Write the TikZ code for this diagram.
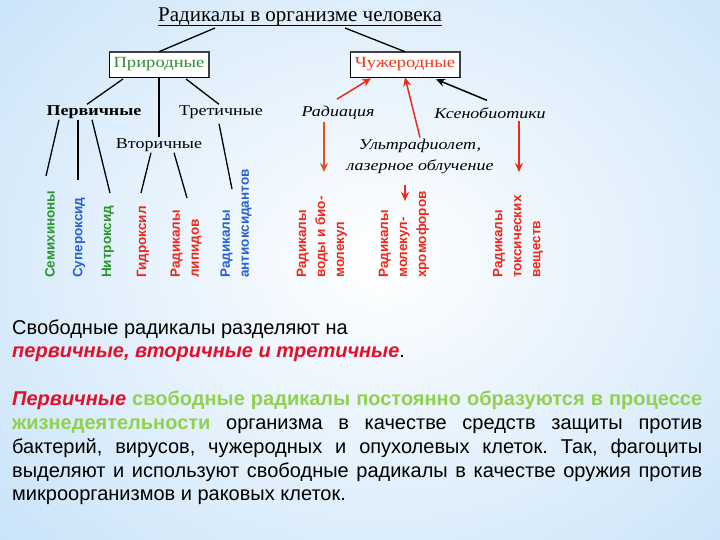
\documentclass[tikz,border=0pt]{standalone}
\usepackage{fontspec}
\setmainfont{Liberation Serif}
\newfontfamily\arial{Liberation Sans}
\newfontfamily\labfont[FakeStretch=1.2]{Liberation Serif}
\usetikzlibrary{arrows.meta,calc}
\definecolor{bgblue}{RGB}{176,214,245}
\definecolor{lgreen}{RGB}{40,150,40}
\definecolor{lblue}{RGB}{40,95,210}
\definecolor{lred}{RGB}{238,40,26}
\definecolor{boxgreen}{RGB}{50,140,50}
\definecolor{boxred}{RGB}{232,58,26}
\definecolor{orred}{RGB}{226,80,30}
\definecolor{txtred}{RGB}{226,16,40}
\definecolor{txtgreen}{RGB}{146,208,80}
\tikzset{
  treeline/.style={black,line width=1.3pt},
  redarrow/.style={lred,line width=1.5pt,-{Stealth[length=9pt,width=8pt]}},
  blackarrow/.style={black,line width=1.5pt,-{Stealth[length=9pt,width=8pt]}},
  lab/.style={font=\labfont\fontsize{15}{17}\selectfont,inner sep=1pt},
  ilab/.style={font=\labfont\itshape\fontsize{15}{21}\selectfont,inner sep=1pt,align=center},
  catbox/.style={draw=black,line width=0.6pt,fill=white,minimum height=25pt,inner sep=0pt,
     font=\labfont\fontsize{15.5}{17}\selectfont},
  vlab/.style={rotate=90,anchor=west,inner sep=0pt,align=left,
     font=\arial\bfseries\fontsize{13.5}{19}\selectfont},
  body/.style={anchor=base west,inner sep=0pt,font=\arial\fontsize{20}{24}\selectfont}
}
\begin{document}
\frenchspacing
\begin{tikzpicture}[x=1pt,y=-1pt]
\useasboundingbox (0,0) rectangle (720,540);
\fill[bgblue] (0,0) rectangle (720,540);
\shade[inner color=white,outer color=bgblue] (380,260) ellipse (760 and 620);

% title
\node[anchor=base,inner sep=0pt,font=\fontsize{21}{23}\selectfont] (title) at (300,22) {Радикалы в организме человека};
\draw[line width=0.8pt] ([yshift=-3pt]title.base west) -- ([yshift=-3pt]title.base east);

% category boxes
\node[catbox,minimum width=100pt,text=boxgreen] (prir) at (159,64.5) {Природные};
\node[catbox,minimum width=110pt,text=boxred] (chuzh) at (405,64.5) {Чужеродные};
\draw[line width=2pt,darkgray] (prir.north west) -- (prir.north east) -- (prir.south east);
\draw[line width=2pt,darkgray] (chuzh.north west) -- (chuzh.north east) -- (chuzh.south east);

\coordinate (t1) at (215,28);
\coordinate (t2) at (345,28);
\draw[treeline] (t1) -- (prir.north);
\draw[treeline] (t2) -- (chuzh.north);

% natural branch
\node[lab,font=\labfont\bfseries\fontsize{15}{17}\selectfont] (perv) at (94,112) {Первичные};
\node[lab] (tret) at (221,112) {Третичные};
\node[lab] (vtor) at (159,145) {Вторичные};

\coordinate (p1) at (123,79);
\coordinate (p2) at (186,79);
\draw[treeline] (p1) -- ($(perv.north)+(-7,0)$);
\draw[treeline] (prir.south) -- (vtor.north);
\draw[treeline] (p2) -- ($(tret.north)+(-2,0)$);

\node[vlab,text=lgreen] (semi) at (50,278) {Семихиноны};
\node[vlab,text=lblue] (super) at (79,278) {Супероксид};
\node[vlab,text=lgreen] (nitro) at (108,278) {Нитроксид};
\node[vlab,text=lred] (gidro) at (143,278) {Гидроксил};
\node[vlab,text=lred] (lipid) at (186,278) {Радикалы\\липидов};
\node[vlab,text=lblue] (antiox) at (236,278) {Радикалы\\антиоксидантов};

\coordinate (e1) at (46,176);
\coordinate (e2) at (78,180);
\coordinate (e3) at (110,193);
\coordinate (e4) at (141,193);
\coordinate (e5) at (187,198);
\coordinate (e6) at (232,189);
\draw[treeline] ($(perv.south)+(-35,0)$) -- (e1);
\draw[treeline] ($(perv.south)+(-16,0)$) -- (e2);
\draw[treeline] ($(perv.south)+(-2,0)$) -- (e3);
\draw[treeline] ($(vtor.south)+(-8,0)$) -- (e4);
\draw[treeline] ($(vtor.south)+(15,0)$) -- (e5);
\draw[treeline] ($(tret.south)+(-2,4)$) -- (e6);

% foreign branch
\node[ilab] (rad) at (338,113) {Радиация};
\node[ilab] (kseno) at (490,113) {Ксенобиотики};
\node[ilab] (uf) at (420,156) {Ультрафиолет,\\лазерное облучение};

\draw[redarrow] ($(rad.north)+(-1,-6)$) -- ($(chuzh.south)+(-34,1)$);
\draw[redarrow] (uf.north) -- (chuzh.south);
\draw[blackarrow] ($(kseno.north)+(-3,-6)$) -- ($(chuzh.south)+(31,2)$);

\node[vlab,text=lred] (voda) at (322,278) {Радикалы\\воды и био-\\молекул};
\node[vlab,text=lred] (chrom) at (404,278) {Радикалы\\молекул-\\хромофоров};
\node[vlab,text=lred] (toks) at (518,278) {Радикалы\\токсических\\веществ};

\coordinate (d1) at (324,172);
\coordinate (d2) at (405,201);
\coordinate (d3) at (519,172);
\draw[redarrow,orred] ($(rad.south)+(-14,1)$) -- (d1);
\draw[redarrow] ($(uf.south)+(-15,10)$) -- (d2);
\draw[redarrow] ($(kseno.south)+(29,1)$) -- (d3);

% text
\node[body] (s1) at (12,334) {Свободные радикалы разделяют на};
\node[body] (s2) at (12,357) {\textcolor{txtred}{\bfseries\itshape первичные, вторичные и третичные}.};

\node[body] (l1) at (12,405) {\makebox[690pt][s]{\textcolor{txtred}{\bfseries\itshape Первичные} \textcolor{txtgreen}{\bfseries свободные радикалы постоянно образуются в процессе}}};
\node[body] (l2) at (12,429) {\makebox[690pt][s]{\textcolor{txtgreen}{\bfseries жизнедеятельности} организма в качестве средств защиты против}};
\node[body] (l3) at (12,453) {\makebox[690pt][s]{бактерий, вирусов, чужеродных и опухолевых клеток. Так, фагоциты}};
\node[body] (l4) at (12,477) {\makebox[690pt][s]{выделяют и используют свободные радикалы в качестве оружия против}};
\node[body] (l5) at (12,500) {микроорганизмов и раковых клеток.};
\end{tikzpicture}
\end{document}
